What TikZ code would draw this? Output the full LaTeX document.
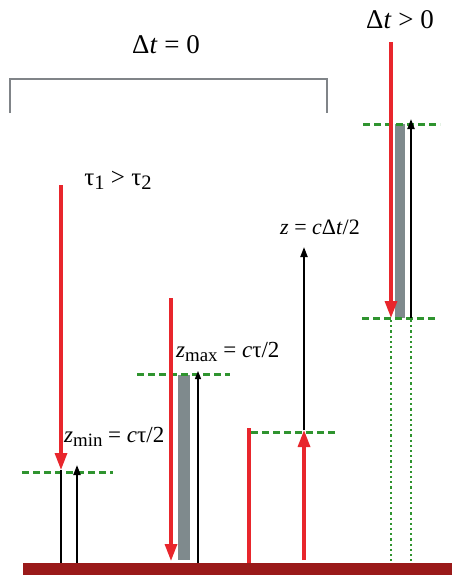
\documentclass[tikz,border=0pt]{standalone}
\usepackage{fontspec}
\setmainfont{Liberation Serif}
\usetikzlibrary{arrows.meta}
\definecolor{rd}{HTML}{E8262C}
\definecolor{gr}{HTML}{2F942F}
\definecolor{gy}{HTML}{7F8A8D}
\definecolor{bar}{HTML}{9A1A1A}
\definecolor{brk}{HTML}{808488}
\newcommand{\mysub}[1]{\raisebox{-0.35ex}{\scalebox{0.82}{#1}}}
\begin{document}
\begin{tikzpicture}[x=1pt,y=-1pt,
  redarrow/.style={draw=rd, line width=3.2pt, -{Triangle[length=17pt,width=12pt]}},
  redline/.style={draw=rd, line width=3.2pt},
  blkarrow/.style={draw=black, line width=2pt, -{Triangle[length=10pt,width=7pt]}},
  thinarrow/.style={draw=black, line width=1.3pt, -{Triangle[length=8pt,width=6pt]}},
  blkline/.style={draw=black, line width=2pt},
  gdash/.style={draw=gr, line width=3pt, dash pattern=on 7pt off 4pt},
  gdot/.style={draw=gr, line width=2.2pt, dash pattern=on 2.2pt off 3pt},
  lbl/.style={inner sep=0pt, font=\fontsize{23}{25}\selectfont},
  biglbl/.style={inner sep=0pt, font=\fontsize{27}{29}\selectfont}]
\useasboundingbox (0,0) rectangle (452,576);
% ground bar
\fill[bar] (23,563) rectangle (452,575);
% bracket
\draw[brk, line width=1.5pt] (10,113) -- (10,79) -- (327,79) -- (327,113);
% labels
\node[biglbl] (dt0) at (166,45) {Δ\textit{t} = 0};
\node[biglbl] (dtp) at (400,20) {Δ\textit{t} > 0};
\node[lbl, font=\fontsize{25}{27}\selectfont] (tau) at (118,180) {τ\mysub{1} > τ\mysub{2}};
\node[lbl, anchor=west] (zmin) at (64,437) {\textit{z}\mysub{min} = \textit{c}τ/2};
\node[lbl, anchor=west] (zmax) at (176,352) {\textit{z}\mysub{max} = \textit{c}τ/2};
\node[lbl, font=\fontsize{22}{24}\selectfont] (zdt) at (320,227) {\textit{z} = \textit{c}Δ\textit{t}/2};
% column 1
\coordinate (a1) at (61,185);
\coordinate (a2) at (61,470);
\coordinate (a3) at (61,563);
\coordinate (b1) at (77,563);
\coordinate (b2) at (77,465);
\draw[gdash] (22,472) -- (113,472);
\draw[blkline] (a2) -- (a3);
\draw[blkarrow] (b1) -- (b2);
\draw[redarrow] (a1) -- (a2);
% column 2
\fill[gy] (178,375) rectangle (190,560);
\draw[gdash] (137,374) -- (230,374);
\coordinate (c1) at (171,298);
\coordinate (c2) at (171,561);
\coordinate (d1) at (198,563);
\coordinate (d2) at (198,371);
\draw[thinarrow] (d1) -- (d2);
\draw[redarrow] (c1) -- (c2);
% column 3
\coordinate (e1) at (249,563);
\coordinate (e2) at (249,428);
\draw[redline] (e1) -- (e2);
\draw[gdash] (251,432) -- (338,432);
\coordinate (f1) at (304,560);
\coordinate (f2) at (304,430);
\coordinate (f3) at (304,247);
\draw[blkarrow] (f2) -- (f3);
\draw[redarrow] (f1) -- (f2);
% column 4
\fill[gy] (395,124) rectangle (405,318);
\draw[gdash] (363,124) -- (440,124);
\draw[gdash] (362,318) -- (437,318);
\draw[gdot] (391,320) -- (391,563);
\draw[gdot] (411,320) -- (411,563);
\coordinate (g1) at (391,42);
\coordinate (g2) at (391,318);
\coordinate (h1) at (411,318);
\coordinate (h2) at (411,119);
\draw[blkarrow] (h1) -- (h2);
\draw[redarrow] (g1) -- (g2);
\end{tikzpicture}
\end{document}
